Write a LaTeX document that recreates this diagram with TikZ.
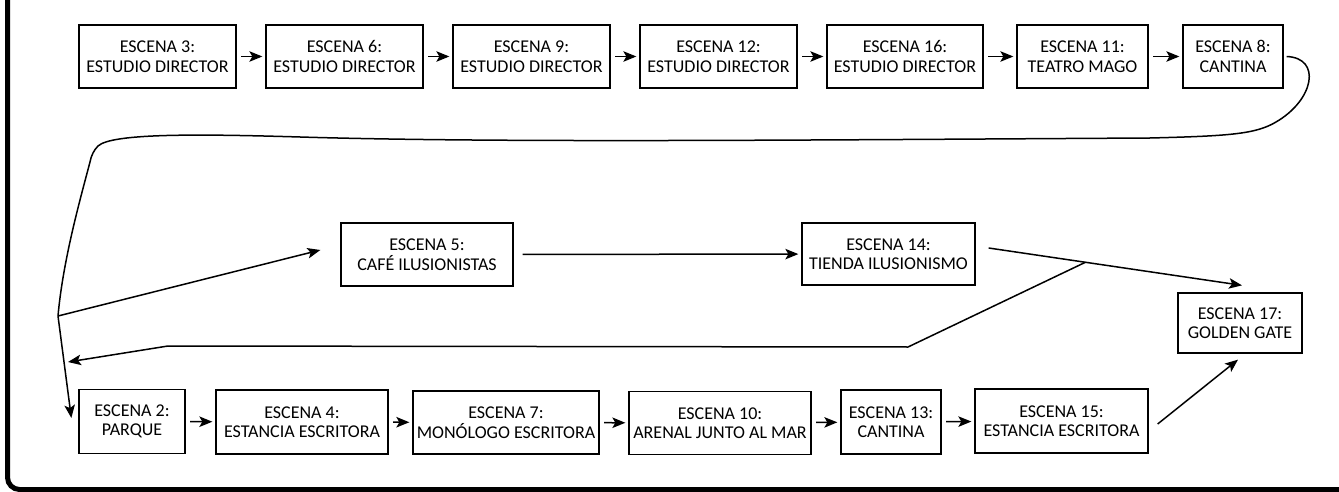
\documentclass[tikz,border=0pt]{standalone}
\usepackage{fontspec}
\setmainfont{Carlito}
\usetikzlibrary{arrows.meta,calc}
\begin{document}
\begin{tikzpicture}[x=1pt,y=-1pt,
  scene/.style={draw, line width=1.3pt, inner sep=0pt, align=center,
    font=\fontsize{18}{19.5}\selectfont},
  link/.style={line width=1.5pt, -{Stealth[length=13pt,width=10.5pt,inset=3pt]}},
  rowlink/.style={link, shorten <=4.5pt, shorten >=3pt},
  wire/.style={line width=1.5pt}]
\useasboundingbox (0,0) rectangle (1339,492);
% frame
\draw[line width=5pt, rounded corners=12pt] (7.5,-10) -- (7.5,489.5) -- (1350,489.5);
% top row
\node[scene, minimum width=157pt, minimum height=63pt] (e3)  at (157.5,56.5) {ESCENA 3:\\ESTUDIO DIRECTOR};
\node[scene, minimum width=157pt, minimum height=63pt] (e6)  at (344.5,56.5) {ESCENA 6:\\ESTUDIO DIRECTOR};
\node[scene, minimum width=157pt, minimum height=63pt] (e9)  at (531.5,56.5) {ESCENA 9:\\ESTUDIO DIRECTOR};
\node[scene, minimum width=157pt, minimum height=63pt] (e12) at (718.5,56.5) {ESCENA 12:\\ESTUDIO DIRECTOR};
\node[scene, minimum width=156pt, minimum height=63pt] (e16) at (905,56.5) {ESCENA 16:\\ESTUDIO DIRECTOR};
\node[scene, minimum width=131pt, minimum height=63pt] (e11) at (1082.5,56.5) {ESCENA 11:\\TEATRO MAGO};
\node[scene, minimum width=100pt, minimum height=63pt] (e8)  at (1233,56.5) {ESCENA 8:\\CANTINA};
% middle row
\node[scene, minimum width=172pt, minimum height=63pt] (e5)  at (427,254.5) {ESCENA 5:\\CAFÉ ILUSIONISTAS};
\node[scene, minimum width=173pt, minimum height=62pt] (e14) at (888.5,254) {ESCENA 14:\\TIENDA ILUSIONISMO};
\node[scene, minimum width=124pt, minimum height=60pt] (e17) at (1240,323) {ESCENA 17:\\GOLDEN GATE};
% bottom row
\node[scene, minimum width=106pt, minimum height=64pt] (e2)  at (132,421.5) {ESCENA 2:\\PARQUE};
\node[scene, minimum width=172pt, minimum height=64pt] (e4)  at (302,422) {ESCENA 4:\\ESTANCIA ESCRITORA};
\node[scene, minimum width=186pt, minimum height=63pt] (e7)  at (506,422.5) {ESCENA 7:\\MONÓLOGO ESCRITORA};
\node[scene, minimum width=182pt, minimum height=63pt] (e10) at (720,423) {ESCENA 10:\\ARENAL JUNTO AL MAR};
\node[scene, minimum width=100pt, minimum height=64pt] (e13) at (891,422) {ESCENA 13:\\CANTINA};
\node[scene, minimum width=173pt, minimum height=64pt] (e15) at (1061.5,421) {ESCENA 15:\\ESTANCIA ESCRITORA};
% top row links
\draw[rowlink] (e3) -- (e6);
\draw[rowlink] (e6) -- (e9);
\draw[rowlink] (e9) -- (e12);
\draw[rowlink] (e12) -- (e16);
\draw[rowlink] (e16) -- (e11);
\draw[rowlink] (e11) -- (e8);
% bottom row links
\draw[rowlink] (e2) -- (e4);
\draw[rowlink] (e4) -- (e7);
\draw[rowlink] (e7) -- (e10);
\draw[rowlink] (e10) -- (e13);
\draw[rowlink] (e13) -- (e15);
% middle
\draw[link, shorten <=9pt, shorten >=3pt] (e5) -- (e14);
% long return curve from e8 to junction
\coordinate (j) at (58,316);
\draw[wire] ($(e8.east)+(3,0)$) .. controls (1322,58) and (1314,100) .. (1276,122)
  .. controls (1256,134) and (1230,136) .. (1150,138)
  .. controls (800,140) and (500,143) .. (300,137)
  .. controls (200,134) and (112,133) .. (98,146)
  .. controls (94,150) and (91,156) .. (90,162)
  .. controls (80,200) and (63,260) .. (j);
\draw[link] (j) -- ($(e5.west)+(-20,-4.5)$);
\draw[link] (j) -- ($(e2.west)+(-7,-3.5)$);
% e14 to e17 and branch back
\coordinate (s14) at ($(e14.east)+(13,-6)$);
\coordinate (t17) at ($(e17.north)+(2,-7)$);
\draw[link] (s14) -- (t17);
\coordinate (k) at ($(s14)!0.382!(t17)$);
\coordinate (b1) at (908,347);
\coordinate (b2) at (168,346);
\coordinate (b3) at (68,362);
\draw[link] (k) -- (b1) -- (b2) -- (b3);
% e15 to e17
\draw[link] ($(e15.east)+(9,3)$) -- ($(e17.south)+(-2,6)$);
\end{tikzpicture}
\end{document}
